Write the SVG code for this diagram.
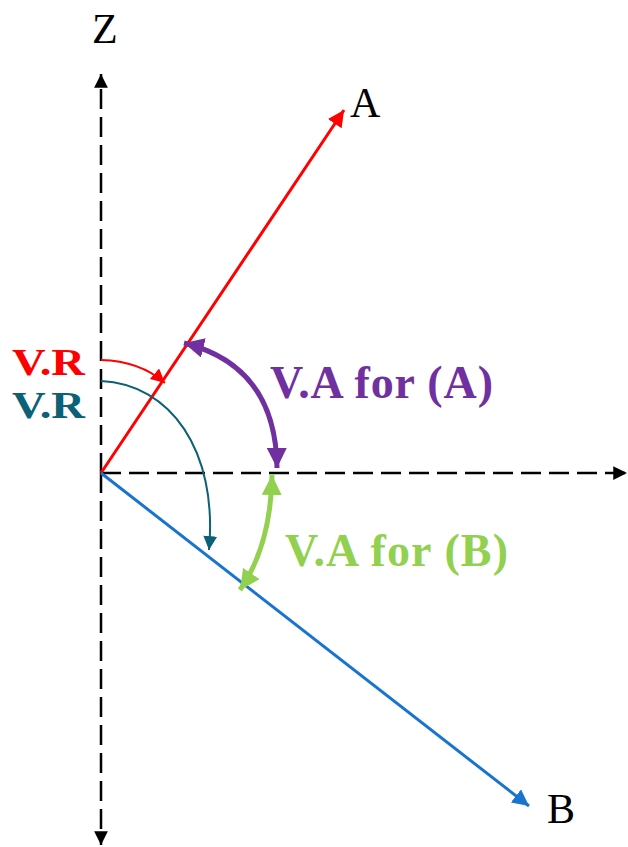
<svg xmlns="http://www.w3.org/2000/svg" width="628" height="847" viewBox="0 0 628 847">
<defs>
<style>
.axis{stroke:#000;stroke-width:2.5;stroke-dasharray:20 8;fill:none}
.lbl{font-family:"Liberation Serif",serif;font-size:42px;fill:#000}
.b{font-family:"Liberation Serif",serif;font-weight:bold}
</style>
<marker id="ak" viewBox="0 0 10 10" refX="10" refY="5" markerWidth="5.5" markerHeight="5.5" orient="auto" markerUnits="strokeWidth"><path d="M0,0L10,5L0,10z" fill="#000"/></marker>
<marker id="ar" viewBox="0 0 10 10" refX="10" refY="5" markerWidth="5.5" markerHeight="5.5" orient="auto" markerUnits="strokeWidth"><path d="M0,0L10,5L0,10z" fill="#FF0000"/></marker>
<marker id="ab" viewBox="0 0 10 10" refX="10" refY="5" markerWidth="5.5" markerHeight="5.5" orient="auto" markerUnits="strokeWidth"><path d="M0,0L10,5L0,10z" fill="#1874CD"/></marker>
<marker id="at" viewBox="0 0 10 10" refX="10" refY="5" markerWidth="7" markerHeight="7" orient="auto" markerUnits="strokeWidth"><path d="M0,0L10,5L0,10z" fill="#0B6176"/></marker>
<marker id="arr" viewBox="0 0 10 10" refX="10" refY="5" markerWidth="7" markerHeight="7" orient="auto" markerUnits="strokeWidth"><path d="M0,0L10,5L0,10z" fill="#FF0000"/></marker>
<marker id="ap" viewBox="0 0 10 10" refX="10" refY="5" markerWidth="4" markerHeight="4" orient="auto-start-reverse" markerUnits="strokeWidth"><path d="M0,0L10,5L0,10z" fill="#7030A0"/></marker>
<marker id="ag" viewBox="0 0 10 10" refX="10" refY="5" markerWidth="4" markerHeight="4" orient="auto-start-reverse" markerUnits="strokeWidth"><path d="M0,0L10,5L0,10z" fill="#92D050"/></marker>
</defs>
<g id="connectors">
<line id="z-axis-up" class="axis" x1="101" y1="473" x2="101" y2="74" marker-end="url(#ak)"/>
<line id="z-axis-down" class="axis" x1="101" y1="473" x2="101" y2="845" marker-end="url(#ak)"/>
<line id="x-axis" class="axis" x1="101" y1="473" x2="627" y2="473" marker-end="url(#ak)"/>
<line id="ray-a" x1="101" y1="473" x2="344" y2="110" stroke="#FF0000" stroke-width="3" marker-end="url(#ar)"/>
<line id="ray-b" x1="101" y1="473" x2="529" y2="806" stroke="#1874CD" stroke-width="3" marker-end="url(#ab)"/>
<path id="vr-red" d="M101,360 Q140,361 165,383" fill="none" stroke="#FF0000" stroke-width="2" marker-end="url(#arr)"/>
<path id="vr-teal" d="M101,381 C170,384 218,450 209,550" fill="none" stroke="#0B6176" stroke-width="2" marker-end="url(#at)"/>
<path id="va-a" d="M184,343 Q276,366 277,468" fill="none" stroke="#7030A0" stroke-width="5" marker-start="url(#ap)" marker-end="url(#ap)"/>
<path id="va-b" d="M272,475 Q271,545 240,590" fill="none" stroke="#92D050" stroke-width="5" marker-start="url(#ag)" marker-end="url(#ag)"/>
</g>
<g id="label-z"><text class="lbl" x="92" y="43">Z</text></g>
<g id="label-a"><text class="lbl" x="350" y="117">A</text></g>
<g id="label-b"><text class="lbl" x="547" y="823">B</text></g>
<g id="label-vr-red"><text class="b" x="12" y="375" font-size="38" fill="#FF0000" textLength="73" lengthAdjust="spacingAndGlyphs">V.R</text></g>
<g id="label-vr-teal"><text class="b" x="12" y="418" font-size="38" fill="#0B6176" textLength="73" lengthAdjust="spacingAndGlyphs">V.R</text></g>
<g id="label-va-a"><text class="b" x="270" y="398" font-size="46" fill="#7030A0" textLength="223">V.A for (A)</text></g>
<g id="label-va-b"><text class="b" x="285" y="566" font-size="46" fill="#92D050" textLength="223">V.A for (B)</text></g>
</svg>
